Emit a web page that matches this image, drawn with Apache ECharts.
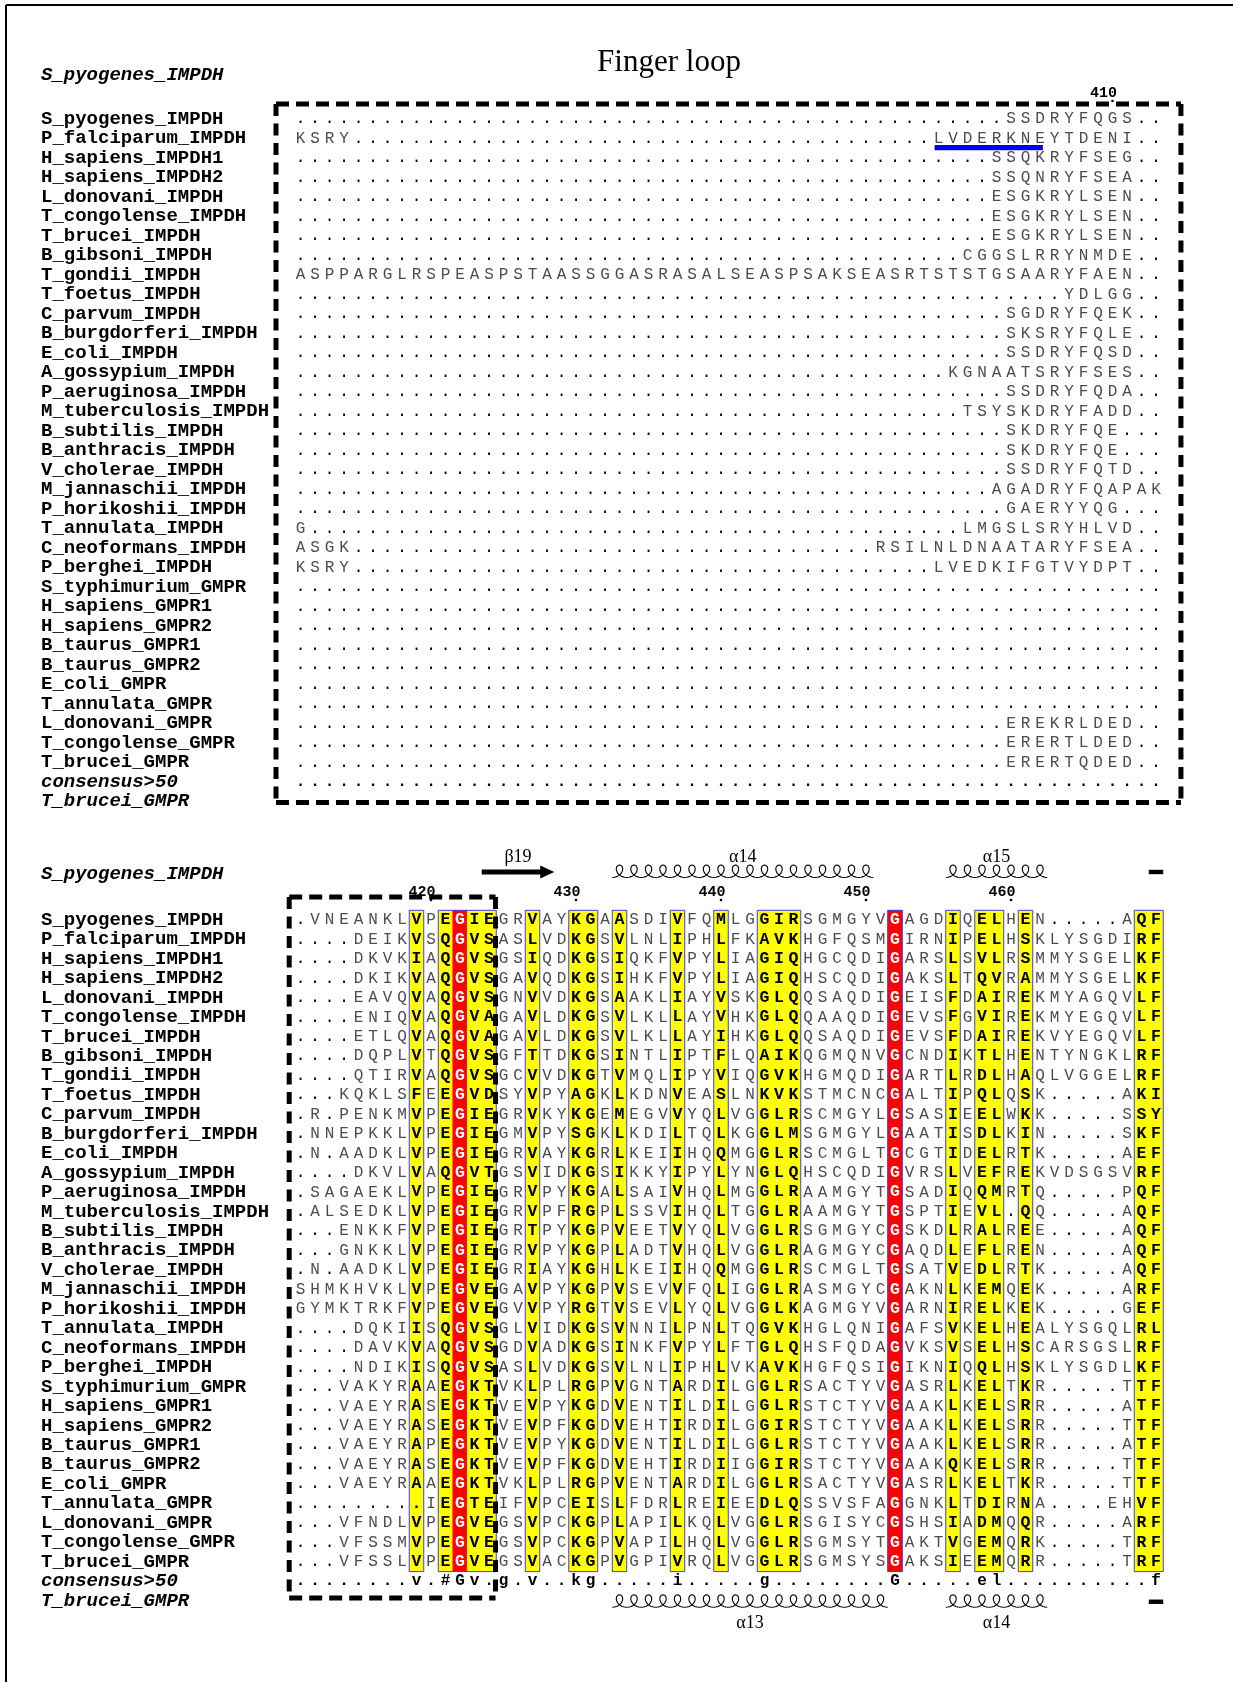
<!DOCTYPE html>
<html>
<head>
<meta charset="utf-8">
<script src="https://cdn.jsdelivr.net/npm/echarts@6/dist/echarts.min.js"></script>
<style>
  html, body { margin: 0; padding: 0; background: #fff; }
  #chart { width: 1233px; height: 1682px; }
</style>
</head>
<body>
<div id="chart"></div>
<script>
// ---- fonts / colours ----
var MONO = "'Liberation Mono', 'DejaVu Sans Mono', monospace";
var SERIF = "'Liberation Serif', 'DejaVu Serif', serif";
var PLAIN = '#4d4d4d';
var YELLOW = '#ffff00';
var RED = '#ff0000';
var FRAME = '#3c3cff';

// ---- data ----
var seqNames = [
  'S_pyogenes_IMPDH', 'P_falciparum_IMPDH', 'H_sapiens_IMPDH1', 'H_sapiens_IMPDH2',
  'L_donovani_IMPDH', 'T_congolense_IMPDH', 'T_brucei_IMPDH', 'B_gibsoni_IMPDH',
  'T_gondii_IMPDH', 'T_foetus_IMPDH', 'C_parvum_IMPDH', 'B_burgdorferi_IMPDH',
  'E_coli_IMPDH', 'A_gossypium_IMPDH', 'P_aeruginosa_IMPDH', 'M_tuberculosis_IMPDH',
  'B_subtilis_IMPDH', 'B_anthracis_IMPDH', 'V_cholerae_IMPDH', 'M_jannaschii_IMPDH',
  'P_horikoshii_IMPDH', 'T_annulata_IMPDH', 'C_neoformans_IMPDH', 'P_berghei_IMPDH',
  'S_typhimurium_GMPR', 'H_sapiens_GMPR1', 'H_sapiens_GMPR2', 'B_taurus_GMPR1',
  'B_taurus_GMPR2', 'E_coli_GMPR', 'T_annulata_GMPR', 'L_donovani_GMPR',
  'T_congolense_GMPR', 'T_brucei_GMPR'
];
var rowNames = seqNames.concat(['consensus>50', 'T_brucei_GMPR']);

// alignment rows written in groups of ten columns
var topRowsRaw = [
  '.......... .......... .......... .......... .........S SDRYFQGS..',
  'KSRY...... .......... .......... .......... ....LVDERK NEYTDENI..',
  '.......... .......... .......... .......... ........SS QKRYFSEG..',
  '.......... .......... .......... .......... ........SS QNRYFSEA..',
  '.......... .......... .......... .......... ........ES GKRYLSEN..',
  '.......... .......... .......... .......... ........ES GKRYLSEN..',
  '.......... .......... .......... .......... ........ES GKRYLSEN..',
  '.......... .......... .......... .......... ......CGGS LRRYNMDE..',
  'ASPPARGLRS PEASPSTAAS SGGASRASAL SEASPSAKSE ASRTSTSTGS AARYFAEN..',
  '.......... .......... .......... .......... .......... ...YDLGG..',
  '.......... .......... .......... .......... .........S GDRYFQEK..',
  '.......... .......... .......... .......... .........S KSRYFQLE..',
  '.......... .......... .......... .......... .........S SDRYFQSD..',
  '.......... .......... .......... .......... .....KGNAA TSRYFSES..',
  '.......... .......... .......... .......... .........S SDRYFQDA..',
  '.......... .......... .......... .......... ......TSYS KDRYFADD..',
  '.......... .......... .......... .......... .........S KDRYFQE...',
  '.......... .......... .......... .......... .........S KDRYFQE...',
  '.......... .......... .......... .......... .........S SDRYFQTD..',
  '.......... .......... .......... .......... ........AG ADRYFQAPAK',
  '.......... .......... .......... .......... .........G AERYYQG...',
  'G......... .......... .......... .......... ......LMGS LSRYHLVD..',
  'ASGK...... .......... .......... .......... RSILNLDNAA TARYFSEA..',
  'KSRY...... .......... .......... .......... ....LVEDKI FGTVYDPT..',
  '.......... .......... .......... .......... .......... ..........',
  '.......... .......... .......... .......... .......... ..........',
  '.......... .......... .......... .......... .......... ..........',
  '.......... .......... .......... .......... .......... ..........',
  '.......... .......... .......... .......... .......... ..........',
  '.......... .......... .......... .......... .......... ..........',
  '.......... .......... .......... .......... .......... ..........',
  '.......... .......... .......... .......... .........E REKRLDED..',
  '.......... .......... .......... .......... .........E RERTLDED..',
  '.......... .......... .......... .......... .........E RERTQDED..'
];
var topConsensusRaw = '.......... .......... .......... .......... .......... ..........';

var bottomRowsRaw = [
  '.VNEANKLVP EGIEGRVAYK GAASDIVFQM LGGIRSGMGY VGAGDIQELH EN.....AQF',
  '....DEIKVS QGVSASLVDK GSVLNLIPHL FKAVKHGFQS MGIRNIPELH SKLYSGDIRF',
  '....DKVKIA QGVSGSIQDK GSIQKFVPYL IAGIQHGCQD IGARSLSVLR SMMYSGELKF',
  '....DKIKVA QGVSGAVQDK GSIHKFVPYL IAGIQHSCQD IGAKSLTQVR AMMYSGELKF',
  '....EAVQVA QGVSGNVVDK GSAAKLIAYV SKGLQQSAQD IGEISFDAIR EKMYAGQVLF',
  '....ENIQVA QGVAGAVLDK GSVLKLLAYV HKGLQQAAQD IGEVSFGVIR EKMYEGQVLF',
  '....ETLQVA QGVAGAVLDK GSVLKLLAYI HKGLQQSAQD IGEVSFDAIR EKVYEGQVLF',
  '....DQPLVT QGVSGFTTDK GSINTLIPTF LQAIKQGMQN VGCNDIKTLH ENTYNGKLRF',
  '....QTIRVA QGVSGCVVDK GTVMQLIPYV IQGVKHGMQD IGARTLRDLH AQLVGGELRF',
  '...KQKLSFE EGVDSYVPYA GKLKDNVEAS LNKVKSTMCN CGALTIPQLQ SK.....AKI',
  '.R.PENKMVP EGIEGRVKYK GEMEGVVYQL VGGLRSCMGY LGSASIEELW KK.....SSY',
  '.NNEPKKLVP EGIEGMVPYS GKLKDILTQL KGGLMSGMGY LGAATISDLK IN.....SKF',
  '.N.AADKLVP EGIEGRVAYK GRLKEIIHQQ MGGLRSCMGL TGCGTIDELR TK.....AEF',
  '....DKVLVA QGVTGSVIDK GSIKKYIPYL YNGLQHSCQD IGVRSLVEFR EKVDSGSVRF',
  '.SAGAEKLVP EGIEGRVPYK GALSAIVHQL MGGLRAAMGY TGSADIQQMR TQ.....PQF',
  '.ALSEDKLVP EGIEGRVPFR GPLSSVIHQL TGGLRAAMGY TGSPTIEVL. QQ.....AQF',
  '...ENKKFVP EGIEGRTPYK GPVEETVYQL VGGLRSGMGY CGSKDLRALR EE.....AQF',
  '...GNKKLVP EGIEGRVPYK GPLADTVHQL VGGLRAGMGY CGAQDLEFLR EN.....AQF',
  '.N.AADKLVP EGIEGRIAYK GHLKEIIHQQ MGGLRSCMGL TGSATVEDLR TK.....AQF',
  'SHMKHVKLVP EGVEGAVPYK GPVSEVVFQL IGGLRASMGY CGAKNLKEMQ EK.....ARF',
  'GYMKTRKFVP EGVEGVVPYR GTVSEVLYQL VGGLKAGMGY VGARNIRELK EK.....GEF',
  '....DQKIIS QGVSGLVIDK GSVNNILPNL TQGVKHGLQN IGAFSVKELH EALYSGQLRL',
  '....DAVKVA QGVSGDVADK GSINKFVPYL FTGLQHSFQD AGVKSVSELH SCARSGSLRF',
  '....NDIKIS QGVSASLVDK GSVLNLIPHL VKAVKHGFQS IGIKNIQQLH SKLYSGDLKF',
  '...VAKYRAA EGKTVKLPLR GPVGNTARDI LGGLRSACTY VGASRLKELT KR.....TTF',
  '...VAEYRAS EGKTVEVPYK GDVENTILDI LGGLRSTCTY VGAAKLKELS RR.....ATF',
  '...VAEYRAS EGKTVEVPFK GDVEHTIRDI LGGIRSTCTY VGAAKLKELS RR.....TTF',
  '...VAEYRAP EGKTVEVPYK GDVENTILDI LGGLRSTCTY VGAAKLKELS RR.....ATF',
  '...VAEYRAS EGKTVEVPFK GDVEHTIRDI IGGIRSTCTY VGAAKQKELS RR.....TTF',
  '...VAEYRAA EGKTVKLPLR GPVENTARDI LGGLRSACTY VGASRLKELT KR.....TTF',
  '.........I EGTEIFVPCE ISLFDRLREI EEDLQSSVSF AGGNKLTDIR NA....EHVF',
  '...VFNDLVP EGVEGSVPCK GPLAPILKQL VGGLRSGISY CGSHSIADMQ QR.....ARF',
  '...VFSSMVP EGVEGSVPCK GPVAPILHQL VGGLRSGMSY TGAKTVGEMQ RK.....TRF',
  '...VFSSLVP EGVEGSVACK GPVGPIVRQL VGGLRSGMSY SGAKSIEEMQ RR.....TRF'
];
var bottomConsensusRaw = '........v. #Gv.g.v..k g.....i... ..g....... .G.....el. .........f';

// conserved columns (1-based)
var yellowCols = [9, 11, 13, 14, 17, 20, 21, 23, 27, 30, 33, 34, 35, 46, 48, 49, 51, 59, 60];
var redCols = [12, 42];
var frameRanges = [[9, 9], [11, 14], [17, 17], [20, 21], [23, 23], [27, 27], [30, 30],
                   [33, 35], [42, 42], [46, 46], [48, 49], [51, 51], [59, 60]];

// residue numbering
var topNumberCols = [57];
var topNumberLabels = ['410'];
var bottomNumberCols = [10, 20, 30, 40, 50];
var bottomNumberLabels = ['420', '430', '440', '450', '460'];

// blue underline (P_falciparum, row 2)
var underlines = [{ row: 2, from: 45, to: 52 }];

// secondary structure
var ssTop = [
  { kind: 'arrow', from: 14, to: 18, label: 'β19' },
  { kind: 'helix', from: 23, to: 40, label: 'α14' },
  { kind: 'helix', from: 46, to: 52, label: 'α15' },
  { kind: 'bar', from: 60, to: 60, label: '' }
];
var ssBottom = [
  { kind: 'helix', from: 23, to: 41, label: 'α13' },
  { kind: 'helix', from: 46, to: 52, label: 'α14' },
  { kind: 'bar', from: 60, to: 60, label: '' }
];

// ---- parse / check ----
function clean(s) { return s.replace(/ /g, ''); }
var topRows = topRowsRaw.map(clean);
var bottomRows = bottomRowsRaw.map(clean);
var topConsensus = clean(topConsensusRaw);
var bottomConsensus = clean(bottomConsensusRaw);
[topRows.concat([topConsensus]), bottomRows.concat([bottomConsensus])].forEach(function (block, b) {
  block.forEach(function (s, i) {
    if (s.length !== 60) throw new Error('block ' + b + ' row ' + (i + 1) + ' has ' + s.length + ' columns');
  });
});

function buildCells(rows, consensus, highlight) {
  var cells = [];
  rows.forEach(function (seq, r) {
    for (var c = 1; c <= seq.length; c++) {
      var kind = 'plain';
      if (highlight && redCols.indexOf(c) >= 0) kind = 'red';
      else if (highlight && yellowCols.indexOf(c) >= 0) kind = 'yellow';
      cells.push({ col: c, row: r, ch: seq.charAt(c - 1), kind: kind });
    }
  });
  for (var c = 1; c <= consensus.length; c++) {
    cells.push({ col: c, row: rows.length, ch: consensus.charAt(c - 1), kind: 'cons' });
  }
  return cells;
}
var topCells = buildCells(topRows, topConsensus, false);
var bottomCells = buildCells(bottomRows, bottomConsensus, true);

// ---- helpers ----
function helpers(api) {
  var o = api.coord([1, 0]);
  var s = api.size([1, 1]);
  return {
    X: function (col) { return o[0] + (col - 1) * s[0]; },
    Y: function (row) { return o[1] + (row - 1) * s[1]; },
    w: s[0], h: s[1]
  };
}
function txt(x, y, text, font, fill, align) {
  return { type: 'text', x: x, y: y, style: {
    text: text, font: font, fill: fill,
    align: align || 'center', textAlign: align || 'center',
    verticalAlign: 'middle', textVerticalAlign: 'middle'
  } };
}

function cellSeries(cells, g) {
  return {
    type: 'custom', xAxisIndex: g, yAxisIndex: g, silent: true, z: 2,
    data: cells.map(function (c) { return [c.col, c.row]; }),
    renderItem: function (params, api) {
      var cell = cells[params.dataIndex];
      var p = api.coord([api.value(0), api.value(1)]);
      var s = api.size([1, 1]);
      var kids = [];
      var color = PLAIN, weight = 'normal', size = 16;
      if (cell.kind === 'yellow' || cell.kind === 'red') {
        kids.push({ type: 'rect',
          shape: { x: p[0] - s[0] / 2 - 0.3, y: p[1] - s[1] / 2 - 0.3, width: s[0] + 0.6, height: s[1] + 0.6 },
          style: { fill: cell.kind === 'red' ? RED : YELLOW } });
        color = cell.kind === 'red' ? '#fff' : '#000';
        weight = 'bold'; size = 16.5;
      } else if (cell.kind === 'cons') {
        color = '#000'; weight = 'bold';
      } else if (cell.ch === '.') {
        color = '#000';
      }
      kids.push(txt(p[0], p[1], cell.ch, weight + ' ' + size + 'px ' + MONO, color));
      return { type: 'group', children: kids };
    }
  };
}

function frameSeries(g, nRows) {
  return {
    type: 'custom', xAxisIndex: g, yAxisIndex: g, silent: true, z: 3,
    data: frameRanges.map(function (f) { return [f[0], f[1]]; }),
    renderItem: function (params, api) {
      var H = helpers(api);
      var f = frameRanges[params.dataIndex];
      var x0 = H.X(f[0] - 0.5), x1 = H.X(f[1] + 0.5);
      var y0 = H.Y(0.5), y1 = H.Y(nRows + 0.5);
      return { type: 'rect', shape: { x: x0, y: y0, width: x1 - x0, height: y1 - y0 },
        style: { fill: null, stroke: FRAME, lineWidth: 1 } };
    }
  };
}

function boxSeries(g, box) {
  return {
    type: 'custom', xAxisIndex: g, yAxisIndex: g, silent: true, z: 4,
    data: [[1, 0]],
    renderItem: function (params, api) {
      var H = helpers(api);
      var x0 = H.X(box[0]), x1 = H.X(box[1]), y0 = H.Y(box[2]), y1 = H.Y(box[3]);
      var hs = { stroke: '#000', lineWidth: 5, lineDash: [13, 7] };
      var vs = { stroke: '#000', lineWidth: 5, lineDash: [12, 7.5] };
      return { type: 'group', children: [
        { type: 'line', shape: { x1: x0, y1: y0, x2: x1, y2: y0 }, style: hs },
        { type: 'line', shape: { x1: x0, y1: y1, x2: x1, y2: y1 }, style: hs },
        { type: 'line', shape: { x1: x0, y1: y0, x2: x0, y2: y1 }, style: vs },
        { type: 'line', shape: { x1: x1, y1: y0, x2: x1, y2: y1 }, style: vs }
      ] };
    }
  };
}

function numberSeries(g, cols, labels, row) {
  return {
    type: 'custom', xAxisIndex: g, yAxisIndex: g, silent: true, z: 4,
    data: cols.map(function (c) { return [c, 0]; }),
    renderItem: function (params, api) {
      var H = helpers(api);
      var x = H.X(cols[params.dataIndex]), y = H.Y(row);
      return { type: 'group', children: [
        txt(x + 4.6, y, labels[params.dataIndex], 'bold 15px ' + MONO, '#000', 'right'),
        { type: 'circle', shape: { cx: x, cy: y + 8, r: 1.3 }, style: { fill: '#000' } }
      ] };
    }
  };
}

function underlineSeries(g) {
  return {
    type: 'custom', xAxisIndex: g, yAxisIndex: g, silent: true, z: 4,
    data: underlines.map(function (u) { return [u.from, u.row - 1]; }),
    renderItem: function (params, api) {
      var H = helpers(api);
      var u = underlines[params.dataIndex];
      var x0 = H.X(u.from - 0.27), x1 = H.X(u.to + 0.2), y = H.Y(u.row + 0.47);
      return { type: 'rect', shape: { x: x0, y: y - 2.6, width: x1 - x0, height: 5.2 }, style: { fill: '#0000ee' } };
    }
  };
}

// coil drawn as a looped trochoid, one loop per residue
function helixPoints(x0, x1, n, yc) {
  var pts = [], w = (x1 - x0) / n, R = 6.4, Hh = 12.5, per = 24;
  for (var i = 0; i <= n * per; i++) {
    var t = i / per * 2 * Math.PI;
    pts.push([x0 + w * t / (2 * Math.PI) + R * Math.sin(t), yc + 5.5 - Hh * (1 - Math.cos(t)) / 2]);
  }
  return pts;
}

function ssSeries(items, row, labelRow) {
  return {
    type: 'custom', xAxisIndex: 1, yAxisIndex: 1, silent: true, z: 5,
    data: items.map(function (d) { return [d.from, 0]; }),
    renderItem: function (params, api) {
      var H = helpers(api);
      var d = items[params.dataIndex];
      var x0 = H.X(d.from - 0.5), x1 = H.X(d.to + 0.5), yc = H.Y(row);
      var kids = [];
      if (d.kind === 'helix') {
        kids.push({ type: 'polyline', shape: { points: helixPoints(x0, x1, d.to - d.from + 1, yc) },
          style: { stroke: '#000', lineWidth: 1.1, fill: null } });
      } else if (d.kind === 'arrow') {
        var hl = 14;
        kids.push({ type: 'polygon', shape: { points: [
          [x0, yc - 2.5], [x1 - hl, yc - 2.5], [x1 - hl, yc - 6.5], [x1, yc],
          [x1 - hl, yc + 6.5], [x1 - hl, yc + 2.5], [x0, yc + 2.5]
        ] }, style: { fill: '#000' } });
      } else {
        kids.push({ type: 'rect', shape: { x: x0, y: yc - 2.2, width: x1 - x0, height: 4.4 }, style: { fill: '#000' } });
      }
      if (d.label) kids.push(txt((x0 + x1) / 2, H.Y(labelRow), d.label, '18px ' + SERIF, '#000'));
      return { type: 'group', children: kids };
    }
  };
}

function nameAxis(g) {
  return {
    type: 'category', gridIndex: g, data: rowNames, inverse: true,
    axisLine: { show: false }, axisTick: { show: false }, splitLine: { show: false },
    axisLabel: {
      interval: 0, align: 'left', margin: 252.25,
      fontFamily: MONO, fontWeight: 'bold', fontSize: 19, color: '#000',
      formatter: function (v, i) { return i >= seqNames.length ? '{it|' + v + '}' : v; },
      rich: { it: { fontFamily: MONO, fontWeight: 'bold', fontStyle: 'italic', fontSize: 19, color: '#000' } }
    }
  };
}
function colAxis(g) {
  return { type: 'value', gridIndex: g, min: 0.5, max: 60.5, show: false, splitLine: { show: false } };
}

var chart = echarts.init(document.getElementById('chart'), null, { renderer: 'canvas' });
chart.setOption({
  backgroundColor: '#fff',
  animation: false,
  grid: [
    { left: 293.25, top: 109.25, width: 870, height: 702 },
    { left: 293.25, top: 910.3, width: 870, height: 700.2 }
  ],
  xAxis: [colAxis(0), colAxis(1)],
  yAxis: [nameAxis(0), nameAxis(1)],
  graphic: [
    { type: 'line', shape: { x1: 6, y1: 5, x2: 1233, y2: 5 }, style: { stroke: '#000', lineWidth: 2 } },
    { type: 'line', shape: { x1: 6, y1: 5, x2: 6, y2: 1682 }, style: { stroke: '#000', lineWidth: 2 } },
    txt(669, 63, 'Finger loop', '31px ' + SERIF, '#000'),
    txt(41, 75, 'S_pyogenes_IMPDH', 'italic bold 19px ' + MONO, '#000', 'left'),
    txt(41, 874, 'S_pyogenes_IMPDH', 'italic bold 19px ' + MONO, '#000', 'left')
  ],
  series: [
    cellSeries(topCells, 0),
    underlineSeries(0),
    boxSeries(0, [-0.69, 61.72, 0.23, 36.05]),
    numberSeries(0, topNumberCols, topNumberLabels, -0.33),
    cellSeries(bottomCells, 1),
    frameSeries(1, bottomRows.length),
    boxSeries(1, [0.22, 14.45, -0.18, 35.86]),
    numberSeries(1, bottomNumberCols, bottomNumberLabels, -0.44),
    ssSeries(ssTop, -1.47, -2.24),
    ssSeries(ssBottom, 36.05, 37.18)
  ]
});
</script>
</body>
</html>
